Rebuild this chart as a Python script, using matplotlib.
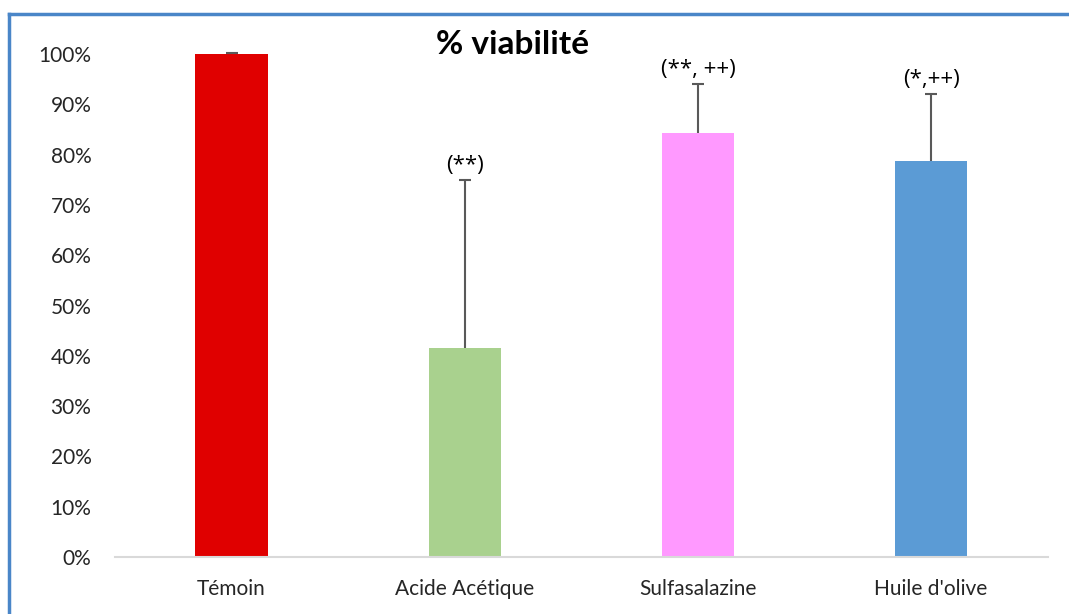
import matplotlib
matplotlib.use("Agg")
import matplotlib.pyplot as plt
from matplotlib.ticker import PercentFormatter
from matplotlib.lines import Line2D

categories = ["Témoin", "Acide Acétique", "Sulfasalazine", "Huile d'olive"]
values = [100.0, 41.5, 84.3, 78.7]
errors = [0.2, 33.5, 9.7, 13.3]
annotations = ["", "(**)", "(**, ++)", "(*,++)"]
colors = ["#E00000", "#A9D18E", "#FF99FF", "#5B9BD5"]
yticks = [0, 10, 20, 30, 40, 50, 60, 70, 80, 90, 100]

plt.rcParams['font.family'] = ['Lato', 'DejaVu Sans']

fig = plt.figure(figsize=(10.69, 6.14), dpi=100)
ax = fig.add_axes([0.1076, 0.0928, 0.980 - 0.1076, 0.912 - 0.0928])

x = list(range(len(categories)))
ax.bar(x, values, width=0.31, color=colors, zorder=2)
_, caplines, _ = ax.errorbar(x, values, yerr=[[0] * len(errors), errors], fmt='none',
                             ecolor='#595959', elinewidth=1.5, capsize=4, capthick=1.5,
                             zorder=3, clip_on=False)
caplines[0].set_visible(False)

for xi, v, e, a in zip(x, values, errors, annotations):
    if a:
        ax.annotate(a, xy=(xi, v + e), xytext=(0, 3), textcoords='offset points',
                    ha='center', va='bottom', fontsize=16, color='black',
                    family=['Open Sans', 'DejaVu Sans'])

ax.set_xlim(-0.5, len(categories) - 0.5)
ax.set_ylim(0, 100)
ax.set_yticks(yticks)
ax.yaxis.set_major_formatter(PercentFormatter(decimals=0))
ax.set_xticks(x)
ax.set_xticklabels(categories)
ax.tick_params(axis='both', length=0, labelsize=15, colors='#262626')
ax.tick_params(axis='x', pad=16)
ax.tick_params(axis='y', pad=17)
for s in ['top', 'right', 'left']:
    ax.spines[s].set_visible(False)
ax.spines['bottom'].set_color('#D9D9D9')
ax.spines['bottom'].set_linewidth(1.5)

fig.text(513 / 1069, 1 - 44 / 614, "% viabilité", ha='center', va='center',
         fontsize=24, fontweight='bold', color='black')

# figure border (top and left, extends beyond right edge)
fig.add_artist(Line2D([9 / 1069, 1.0], [1 - 14 / 614, 1 - 14 / 614],
                      transform=fig.transFigure, color='#4A86C8', lw=2.5))
fig.add_artist(Line2D([9 / 1069, 9 / 1069], [0, 1 - 14 / 614],
                      transform=fig.transFigure, color='#4A86C8', lw=2.5))

fig.savefig("out.png", dpi=100)
